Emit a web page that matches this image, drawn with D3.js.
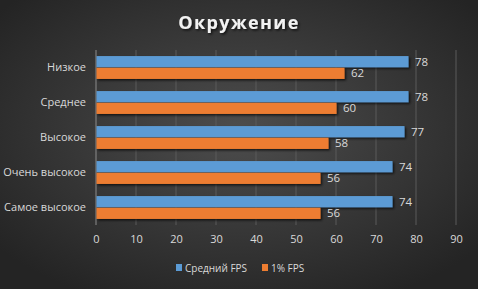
<!DOCTYPE html>
<html>
<head>
<meta charset="UTF-8">
<style>
  body { margin: 0; background: #2b2b2b; }
  svg { display: block; font-family: "Open Sans", "DejaVu Sans", sans-serif; }
</style>
</head>
<body>
<script src="https://cdn.jsdelivr.net/npm/d3@7"></script>
<script>
var categories = ["Низкое", "Среднее", "Высокое", "Очень высокое", "Самое высокое"];
var avgFps = [78, 78, 77, 74, 74];
var lowFps = [62, 60, 58, 56, 56];
var seriesNames = ["Средний FPS", "1% FPS"];
var xTicks = [0, 10, 20, 30, 40, 50, 60, 70, 80, 90];

var W = 478, H = 289;
var m = {left: 96, right: 22, top: 50, bottom: 64};

var svg = d3.select("body").append("svg").attr("width", W).attr("height", H);

// background
var defs = svg.append("defs");
var bg = defs.append("radialGradient").attr("id", "bg")
  .attr("cx", "50%").attr("cy", "45%").attr("r", "65%");
bg.append("stop").attr("offset", "0%").attr("stop-color", "#4d4d4d");
bg.append("stop").attr("offset", "100%").attr("stop-color", "#242424");
var sh = defs.append("filter").attr("id", "sh").attr("x", "-10%").attr("y", "-10%").attr("width", "130%").attr("height", "150%");
sh.append("feDropShadow").attr("dx", 1.5).attr("dy", 1.5).attr("stdDeviation", 1)
  .attr("flood-color", "#000").attr("flood-opacity", 0.7);

svg.append("rect").attr("width", W).attr("height", H).attr("fill", "url(#bg)");

var x = d3.scaleLinear().domain([0, 90]).range([m.left, W - m.right]);
var y = d3.scaleBand().domain(categories).range([m.top, H - m.bottom]).paddingInner(0.32).paddingOuter(0.16);
var sub = d3.scaleBand().domain(seriesNames).range([0, y.bandwidth()]).padding(0.04);
var colors = ["#5b9bd5", "#ed7d31"];

// title
svg.append("text").attr("x", W / 2).attr("y", 29).attr("text-anchor", "middle")
  .attr("fill", "#f2f2f2").attr("font-size", 18).attr("font-weight", "bold")
  .attr("letter-spacing", 1.4).attr("filter", "url(#sh)").text("Окружение");

// grid
svg.append("g").selectAll("line").data(xTicks).enter().append("line")
  .attr("x1", function (d) { return x(d); }).attr("x2", function (d) { return x(d); })
  .attr("y1", m.top).attr("y2", H - m.bottom)
  .attr("stroke", function (d) { return d === 0 ? "#8c8c8c" : "#5a5a5a"; })
  .attr("stroke-width", 1);

// x axis labels
var xAxis = d3.axisBottom(x).tickValues(xTicks).tickSize(0).tickPadding(10);
var gx = svg.append("g").attr("transform", "translate(0," + (H - m.bottom) + ")").call(xAxis);
gx.select(".domain").remove();
gx.selectAll("text").attr("fill", "#d9d9d9").attr("font-size", 11).attr("font-family", "Open Sans, DejaVu Sans, sans-serif");

// y axis labels
var yAxis = d3.axisLeft(y).tickSize(0).tickPadding(10);
var gy = svg.append("g").attr("transform", "translate(" + m.left + ",0)").call(yAxis);
gy.select(".domain").remove();
gy.selectAll("text").attr("fill", "#d9d9d9").attr("font-size", 11).attr("font-family", "Open Sans, DejaVu Sans, sans-serif");

// bars
var series = [avgFps, lowFps];
series.forEach(function (vals, si) {
  var g = svg.append("g");
  g.selectAll("rect").data(vals).enter().append("rect")
    .attr("x", x(0) + 0.5)
    .attr("y", function (d, i) { return y(categories[i]) + sub(seriesNames[si]); })
    .attr("width", function (d) { return x(d) - x(0); })
    .attr("height", sub.bandwidth())
    .attr("fill", colors[si])
    .attr("filter", "url(#sh)");
  g.selectAll("text").data(vals).enter().append("text")
    .attr("x", function (d) { return x(d) + 7; })
    .attr("y", function (d, i) { return y(categories[i]) + sub(seriesNames[si]) + sub.bandwidth() / 2; })
    .attr("dy", "0.35em")
    .attr("fill", "#d9d9d9").attr("font-size", 11.5)
    .text(function (d) { return d; });
});

// legend
var legend = svg.append("g").attr("transform", "translate(0," + (H - 21) + ")");
var lx = [176, 262];
seriesNames.forEach(function (n, i) {
  legend.append("rect").attr("x", lx[i]).attr("y", -4).attr("width", 6).attr("height", 7).attr("fill", colors[i]);
  legend.append("text").attr("x", lx[i] + 9).attr("y", 0).attr("dy", "0.35em")
    .attr("fill", "#d9d9d9").attr("font-size", 10).text(n);
});
</script>
</body>
</html>
